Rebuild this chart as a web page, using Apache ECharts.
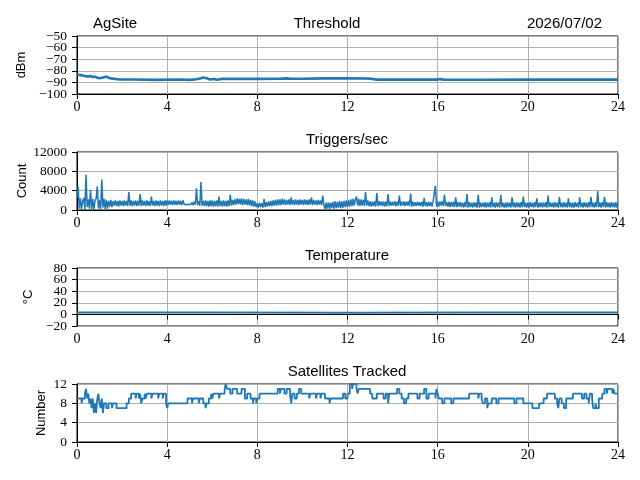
<!DOCTYPE html>
<html>
<head>
<meta charset="utf-8">
<script src="https://cdn.jsdelivr.net/npm/echarts@6/dist/echarts.min.js"></script>
<style>
  html, body { margin: 0; padding: 0; background: #fff; }
  #chart { width: 640px; height: 480px; }
</style>
</head>
<body>
<div id="chart"></div>
<script>
// Threshold, dBm, [hour, value]
var threshold = [
    [0, -83], [0.1, -83.5], [0.15, -83], [0.25, -84], [0.35, -84.5], [0.4, -84],
    [0.5, -85], [0.6, -84.5], [0.7, -85.5], [0.8, -85], [0.9, -86], [1.0, -86.5],
    [1.1, -86], [1.2, -85.5], [1.3, -85], [1.4, -86], [1.5, -86.5], [1.7, -87],
    [1.9, -87.5], [2.5, -87.5], [3.5, -87.8], [4.5, -87.5], [5.0, -87.8], [5.3, -87.3],
    [5.5, -86.5], [5.6, -85.8], [5.75, -86.5], [5.9, -87.5], [6.1, -87], [6.2, -87.8],
    [6.4, -87], [7, -87], [8, -87], [9, -86.8], [9.3, -86.5], [9.5, -86.9],
    [10, -86.8], [11, -86.5], [12, -86.5], [12.8, -86.6], [13.1, -87], [13.3, -87.6],
    [15, -87.6], [16, -87.6], [16.1, -87], [16.25, -87.6], [18, -87.7], [20, -87.6],
    [24, -87.6]
];

// Triggers/sec, one value every 0.05 h (one row = one hour)
var triggerStep = 0.05;
var triggers = [
    2600, 4800, 300, 2400, 200, 1800, 2500, 100, 7300, 600, 2200, 300, 4200, 200, 2300, 100, 1900, 2400, 4900, 300,
    2000, 200, 6300, 500, 2300, 200, 2100, 300, 1900, 700, 2100, 600, 1800, 900, 2000, 800, 1900, 700, 2000, 900,
    1900, 800, 2000, 900, 1900, 800, 3700, 900, 2000, 800, 1900, 900, 2000, 800, 1900, 900, 3300, 800, 2000, 900,
    1900, 800, 2000, 900, 1800, 800, 2800, 900, 1900, 800, 2000, 900, 1900, 800, 2000, 900, 1900, 800, 2000, 900,
    2000, 1000, 2000, 1100, 1900, 1000, 2000, 1100, 1900, 1000, 2000, 1100, 1900, 1000, 2000, 1200, 1300, 1100, 1400, 1200,
    1500, 1100, 1600, 1000, 1700, 1100, 4500, 1000, 1800, 900, 5800, 900, 1900, 800, 2000, 800, 1900, 700, 2000, 800,
    2000, 700, 1900, 800, 2000, 700, 2800, 800, 1900, 700, 2000, 800, 1900, 700, 2000, 800, 3200, 900, 2100, 1000,
    2200, 1100, 2400, 1200, 2300, 1100, 2400, 1000, 2300, 1100, 2200, 1000, 2300, 900, 2100, 800, 2000, 700, 1800, 600,
    1400, 500, 1500, 600, 1400, 500, 2300, 600, 1600, 700, 1800, 800, 1900, 800, 2000, 900, 2100, 900, 2200, 1000,
    2200, 1000, 2300, 1100, 2200, 1000, 2100, 1100, 2200, 1000, 2600, 1100, 2100, 1000, 2200, 1100, 2100, 1000, 2200, 1100,
    2100, 1000, 2200, 1100, 2100, 1000, 2200, 1100, 2600, 1000, 2100, 1100, 2000, 1000, 2100, 1100, 2000, 1000, 3000, 1000,
    200, 1500, 300, 1600, 200, 1500, 400, 1700, 300, 1800, 400, 1700, 500, 1900, 400, 1800, 500, 1900, 600, 2000,
    600, 2000, 700, 2200, 800, 2300, 900, 2200, 2800, 900, 2300, 800, 2200, 900, 2100, 800, 3700, 900, 2000, 800,
    1800, 700, 1700, 800, 1800, 700, 3500, 800, 1800, 900, 1700, 800, 1800, 700, 1700, 800, 3300, 800, 1700, 900,
    1700, 900, 1800, 800, 1700, 900, 3000, 800, 1700, 900, 1800, 800, 1700, 900, 1800, 800, 3400, 700, 1700, 800,
    1600, 800, 1700, 900, 1600, 800, 1700, 700, 2500, 800, 1600, 700, 1700, 800, 1600, 700, 1800, 2200, 5000, 700,
    1800, 700, 1700, 900, 1800, 800, 3200, 800, 1600, 700, 1700, 600, 1600, 700, 1700, 600, 2600, 600, 1600, 700,
    1600, 600, 1500, 500, 1600, 600, 3300, 500, 1600, 600, 1500, 500, 1600, 600, 1500, 500, 3200, 500, 1500, 600,
    1500, 600, 1600, 500, 1500, 600, 1600, 500, 2600, 600, 1500, 500, 1600, 600, 1500, 500, 3100, 600, 1500, 500,
    1500, 500, 1600, 600, 1500, 500, 2600, 600, 1500, 500, 1600, 600, 1500, 500, 1600, 600, 2800, 600, 1500, 500,
    1500, 500, 1600, 600, 1500, 500, 1600, 600, 2400, 500, 1500, 600, 1600, 500, 1500, 600, 1600, 500, 3000, 600,
    1500, 600, 1500, 500, 1600, 600, 1500, 500, 2700, 600, 1500, 500, 1600, 600, 1500, 500, 2400, 600, 1500, 500,
    1500, 500, 1600, 600, 1500, 500, 2600, 600, 1500, 500, 1600, 600, 1500, 500, 1600, 600, 2700, 600, 1500, 500,
    1600, 600, 3900, 600, 1500, 500, 1600, 600, 2700, 500, 1600, 600, 1500, 500, 1600, 600, 1500, 500, 1600, 500,
    1500
];

// Temperature, degC
var temperature = [[0, 3.2], [6, 3.1], [12, 3.0], [18, 3.1], [24, 3.2]];

// Satellites tracked, value held until next change
var satellites = [
    [0, 9], [0.2, 8], [0.25, 9], [0.35, 10], [0.4, 11], [0.45, 9], [0.5, 10], [0.55, 8],
    [0.6, 9], [0.65, 7], [0.7, 9], [0.75, 6], [0.8, 8], [0.85, 6], [0.9, 9], [0.95, 10],
    [1.0, 8], [1.05, 7], [1.1, 9], [1.15, 6], [1.2, 8], [1.3, 7], [1.4, 8], [1.55, 7],
    [1.6, 8], [1.75, 7], [2.2, 8], [2.3, 9], [2.4, 10], [2.6, 9], [2.65, 10], [2.75, 9],
    [2.8, 10], [2.85, 8], [2.9, 9], [3.0, 10], [3.05, 9], [3.1, 10], [3.3, 9], [3.35, 10],
    [3.6, 9], [3.65, 10], [3.8, 9], [3.85, 10], [3.95, 8], [4.0, 7], [4.05, 8], [4.9, 9],
    [5.1, 8], [5.15, 9], [5.4, 8], [5.45, 9], [5.6, 8], [5.7, 7], [5.75, 8], [5.85, 9],
    [5.95, 10], [6.0, 9], [6.05, 10], [6.3, 9], [6.35, 10], [6.55, 11], [6.6, 12], [6.65, 11],
    [6.8, 10], [6.9, 11], [7.1, 10], [7.3, 11], [7.45, 9], [7.55, 10], [7.7, 9], [7.8, 8],
    [7.85, 9], [7.95, 8], [8.0, 9], [8.1, 10], [8.9, 11], [9.0, 10], [9.05, 11], [9.2, 10],
    [9.3, 11], [9.45, 10], [9.5, 8], [9.55, 10], [9.65, 9], [9.75, 10], [9.85, 11], [9.95, 10],
    [10.3, 9], [10.35, 10], [10.6, 9], [10.65, 10], [10.8, 9], [10.85, 10], [11.0, 9], [11.2, 8],
    [11.25, 9], [11.8, 10], [11.9, 9], [12.0, 10], [12.1, 12], [12.2, 11], [12.25, 12], [12.4, 11],
    [12.45, 10], [12.5, 11], [13.0, 10], [13.1, 9], [13.3, 10], [13.6, 9], [13.7, 10], [13.8, 8],
    [13.85, 10], [14.2, 11], [14.3, 10], [14.4, 9], [14.5, 8], [14.6, 9], [14.7, 10], [15.1, 9],
    [15.2, 10], [15.4, 11], [15.5, 9], [15.6, 10], [15.9, 9], [15.95, 11], [16.0, 10], [16.05, 9],
    [16.2, 8], [16.3, 9], [16.6, 8], [16.7, 9], [17.4, 10], [17.8, 9], [17.85, 10], [17.95, 9],
    [18.0, 8], [18.1, 9], [18.2, 7], [18.25, 8], [18.4, 9], [18.6, 8], [18.7, 9], [19.4, 8],
    [19.5, 9], [19.8, 8], [20.2, 7], [20.5, 8], [20.7, 9], [20.85, 10], [21.2, 9], [21.3, 8],
    [21.35, 7], [21.4, 9], [21.5, 8], [21.6, 7], [21.7, 9], [22.0, 10], [22.4, 9], [22.5, 10],
    [22.6, 9], [22.7, 8], [22.75, 10], [22.85, 9], [22.9, 7], [23.0, 8], [23.05, 7], [23.15, 9],
    [23.3, 10], [23.4, 11], [23.5, 10], [23.55, 11], [23.75, 10], [23.8, 11], [23.85, 10], [24, 10]
];

var triggerPairs = triggers.map(function (v, i) {
    return [Math.round(i * triggerStep * 100) / 100, v];
});

var tickFont = 'Liberation Serif';
var textFont = 'Liberation Sans';
var blue = '#1f77b4';
var gridTops = [36, 152, 268, 384];
var plotH = 58;

var grids = gridTops.map(function (t) {
    return {
        left: 77, right: 22, top: t, height: plotH,
        show: true, borderColor: '#000', borderWidth: 1,
        backgroundColor: 'transparent'
    };
});

var xAxes = gridTops.map(function (t, i) {
    return {
        type: 'value', gridIndex: i, min: 0, max: 24, interval: 4,
        axisLine: {show: true, lineStyle: {color: '#000', width: 1}},
        axisTick: {show: true, length: 5, lineStyle: {color: '#000'}},
        axisLabel: {
            fontFamily: tickFont, fontSize: 14, color: '#000', margin: 6,
            showMinLabel: true, showMaxLabel: true
        },
        splitLine: {show: true, lineStyle: {color: '#b0b0b0', width: 1}}
    };
});

// y ticks are spaced tighter than the font, so the labels are split over
// two overlaid axes with the same scale (even ticks / odd ticks)
function yAxisPair(i, name, gap, min, max, step) {
    function fmt(parity) {
        return function (v) {
            var k = Math.round((v - min) / step);
            if (k % 2 !== parity) return '';
            return String(v).replace('-', '\u2212');
        };
    }
    var labelStyle = {
        fontFamily: tickFont, fontSize: 13.5, color: '#000', margin: 10,
        showMinLabel: true, showMaxLabel: true
    };
    var main = {
        type: 'value', gridIndex: i, min: min, max: max, interval: step,
        name: name, nameLocation: 'middle', nameRotate: 90, nameGap: gap,
        nameTextStyle: {fontFamily: textFont, fontSize: 13, color: '#000'},
        axisLine: {show: true, lineStyle: {color: '#000', width: 1}},
        axisTick: {show: true, length: 5, lineStyle: {color: '#000'}},
        axisLabel: Object.assign({formatter: fmt(0)}, labelStyle),
        splitLine: {show: true, lineStyle: {color: '#b0b0b0', width: 1}}
    };
    var odd = {
        type: 'value', gridIndex: i, min: min, max: max, interval: step,
        position: 'left', offset: 0,
        axisLine: {show: false}, axisTick: {show: false}, splitLine: {show: false},
        axisLabel: Object.assign({formatter: fmt(1)}, labelStyle)
    };
    return [main, odd];
}

var yAxes = [].concat(
    yAxisPair(0, 'dBm', 41, -100, -50, 10),
    yAxisPair(1, 'Count', 48, 0, 12000, 4000),
    yAxisPair(2, '\u00b0C', 40, -20, 80, 20),
    yAxisPair(3, 'Number', 29, 0, 12, 4)
);

var titleStyle = {fontFamily: textFont, fontSize: 15, fontWeight: 'normal', color: '#000'};

function panelTitle(text, left, top) {
    return {text: text, left: left, top: top, textAlign: 'center', padding: 0, textStyle: titleStyle};
}

function line(i, data, width, step) {
    return {
        type: 'line', xAxisIndex: i, yAxisIndex: i * 2, data: data,
        step: step || false, showSymbol: false, animation: false,
        lineStyle: {color: blue, width: width}, itemStyle: {color: blue}
    };
}

var chart = echarts.init(document.getElementById('chart'));
var option = {
    backgroundColor: '#fff',
    animation: false,
    title: [
        {text: 'AgSite', left: 93, top: 16, padding: 0, textStyle: titleStyle},
        panelTitle('Threshold', 327, 16),
        {text: '2026/07/02', right: 38, top: 16, padding: 0, textStyle: titleStyle},
        panelTitle('Triggers/sec', 347, 132),
        panelTitle('Temperature', 347, 248),
        panelTitle('Satellites Tracked', 347, 364)
    ],
    grid: grids,
    xAxis: xAxes,
    yAxis: yAxes,
    series: [
        line(0, threshold, 2.6),
        line(1, triggerPairs, 1.5),
        line(2, temperature, 2),
        line(3, satellites, 1.8, 'end')
    ]
};
chart.setOption(option);
</script>
</body>
</html>
